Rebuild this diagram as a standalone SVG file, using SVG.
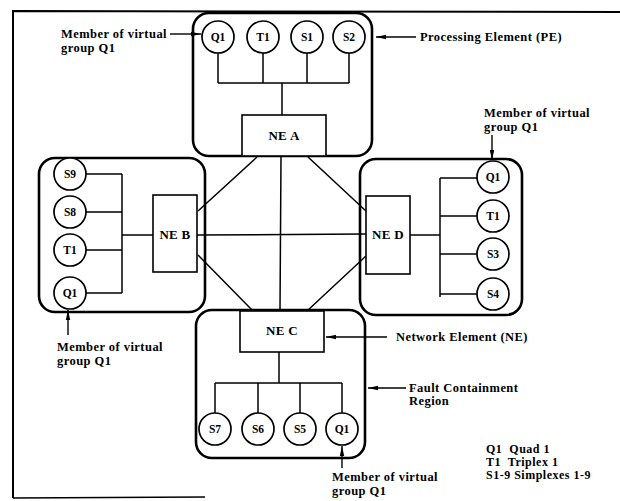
<svg xmlns="http://www.w3.org/2000/svg" width="620" height="501" viewBox="0 0 620 501">
<defs>
<marker id="ah" viewBox="0 0 10 6" refX="10" refY="3" markerWidth="10" markerHeight="6" markerUnits="userSpaceOnUse" orient="auto">
<path d="M0,0.8 L10,3 L0,5.2 Z" fill="#000"/>
</marker>
</defs>
<style>
.fcr{fill:none;stroke:#000;stroke-width:2.6}
.ne{fill:#fff;stroke:#000;stroke-width:1.6}
.pe{fill:#fff;stroke:#000;stroke-width:1.7}
.ln{fill:none;stroke:#000;stroke-width:1.5}
.ar{fill:none;stroke:#000;stroke-width:1.4;marker-end:url(#ah)}
.t{font-family:"Liberation Serif","DejaVu Serif",serif;font-weight:bold;fill:#000}
.nl{font-size:13px;text-anchor:middle;letter-spacing:0.3px}
.cl{font-size:11.5px;text-anchor:middle}
.an{font-size:12.5px;letter-spacing:0.45px}
.lg{font-size:12px;letter-spacing:0.5px}
</style>
<rect width="620" height="501" fill="#fff"/>
<g id="frame">
<path d="M13,498 L13,11 L620,12" fill="none" stroke="#000" stroke-width="2"/>
<path d="M13,498 L205,497" fill="none" stroke="#000" stroke-width="1.6"/>
</g>

<g id="connectors">
<path class="ln" d="M218,53 V83 M263,53 V83 M307,53 V83 M349,53 V83 M218,83 H349 M282,83 V115"/>
<path class="ln" d="M86,174 H122 M86,212 H122 M86,250 H122 M86,293 H122 M122,174 V293 M122,235 H153"/>
<path class="ln" d="M410,235 H440 M440,178 V297 M440,178 H477 M440,216 H477 M440,254 H477 M440,294 H477"/>
<path class="ln" d="M279,352 V383 M215,383 H342 M215,383 V413 M258,383 V413 M300,383 V413 M342,383 V413"/>
<path class="ln" d="M257,157 L198,211 M308,157 L366,211 M281,157 L280,311 M197,235 L366,234 M198,255 L253,311 M366,256 L307,311"/>
</g>

<g id="regionA"><rect class="fcr" x="193" y="13" width="179" height="143" rx="16"/></g>
<g id="regionB"><rect class="fcr" x="39" y="158" width="166" height="154" rx="16"/></g>
<g id="regionD"><rect class="fcr" x="360" y="159" width="162" height="156" rx="16"/></g>
<g id="regionC"><rect class="fcr" x="196" y="310" width="169" height="148" rx="16"/></g>

<g id="neA"><rect class="ne" x="242" y="115" width="84" height="41"/><text class="t nl" x="284" y="140">NE A</text></g>
<g id="neB"><rect class="ne" x="153" y="195" width="44" height="77"/><text class="t nl" x="175" y="239">NE B</text></g>
<g id="neD"><rect class="ne" x="366" y="196" width="44" height="78"/><text class="t nl" x="388" y="239">NE D</text></g>
<g id="neC"><rect class="ne" x="240" y="311" width="84" height="41"/><text class="t nl" x="282" y="335">NE C</text></g>

<g id="peA-Q1"><circle class="pe" cx="218" cy="37" r="16"/><text class="t cl" x="218" y="41">Q1</text></g>
<g id="peA-T1"><circle class="pe" cx="263" cy="37" r="16"/><text class="t cl" x="263" y="41">T1</text></g>
<g id="peA-S1"><circle class="pe" cx="307" cy="37" r="16"/><text class="t cl" x="307" y="41">S1</text></g>
<g id="peA-S2"><circle class="pe" cx="349" cy="37" r="16"/><text class="t cl" x="349" y="41">S2</text></g>

<g id="peB-S9"><circle class="pe" cx="70" cy="174" r="16"/><text class="t cl" x="70" y="178">S9</text></g>
<g id="peB-S8"><circle class="pe" cx="70" cy="212" r="16"/><text class="t cl" x="70" y="216">S8</text></g>
<g id="peB-T1"><circle class="pe" cx="70" cy="250" r="16"/><text class="t cl" x="70" y="254">T1</text></g>
<g id="peB-Q1"><circle class="pe" cx="70" cy="293" r="16"/><text class="t cl" x="70" y="297">Q1</text></g>

<g id="peD-Q1"><circle class="pe" cx="493" cy="177" r="16"/><text class="t cl" x="493" y="181">Q1</text></g>
<g id="peD-T1"><circle class="pe" cx="493" cy="216" r="16"/><text class="t cl" x="493" y="220">T1</text></g>
<g id="peD-S3"><circle class="pe" cx="493" cy="254" r="16"/><text class="t cl" x="493" y="258">S3</text></g>
<g id="peD-S4"><circle class="pe" cx="493" cy="294" r="16"/><text class="t cl" x="493" y="298">S4</text></g>

<g id="peC-S7"><circle class="pe" cx="215" cy="429" r="16"/><text class="t cl" x="215" y="433">S7</text></g>
<g id="peC-S6"><circle class="pe" cx="258" cy="429" r="16"/><text class="t cl" x="258" y="433">S6</text></g>
<g id="peC-S5"><circle class="pe" cx="300" cy="429" r="16"/><text class="t cl" x="300" y="433">S5</text></g>
<g id="peC-Q1"><circle class="pe" cx="342" cy="429" r="16"/><text class="t cl" x="342" y="433">Q1</text></g>

<g id="annotations">
<text class="t an" x="61" y="38">Member of virtual</text>
<text class="t an" x="61" y="52">group Q1</text>
<path class="ar" d="M170,34 H201"/>

<path class="ar" d="M416,37 H376"/>
<text class="t an" x="420" y="41">Processing Element (PE)</text>

<text class="t an" x="484" y="117">Member of virtual</text>
<text class="t an" x="484" y="131">group Q1</text>
<path class="ar" d="M492,135 V160"/>

<path class="ar" d="M68,335 V310"/>
<text class="t an" x="57" y="351">Member of virtual</text>
<text class="t an" x="57" y="365">group Q1</text>

<path class="ar" d="M387,337 H326"/>
<text class="t an" x="396" y="341">Network Element (NE)</text>

<path class="ar" d="M406,388 H368"/>
<text class="t an" x="409" y="392">Fault Containment</text>
<text class="t an" x="409" y="405">Region</text>

<path class="ar" d="M342,468 V446"/>
<text class="t an" x="332" y="481">Member of virtual</text>
<text class="t an" x="332" y="495">group Q1</text>

<text class="t lg" x="486" y="453" xml:space="preserve">Q1  Quad 1</text>
<text class="t lg" x="486" y="466" xml:space="preserve">T1  Triplex 1</text>
<text class="t lg" x="486" y="479">S1-9 Simplexes 1-9</text>
</g>
</svg>
